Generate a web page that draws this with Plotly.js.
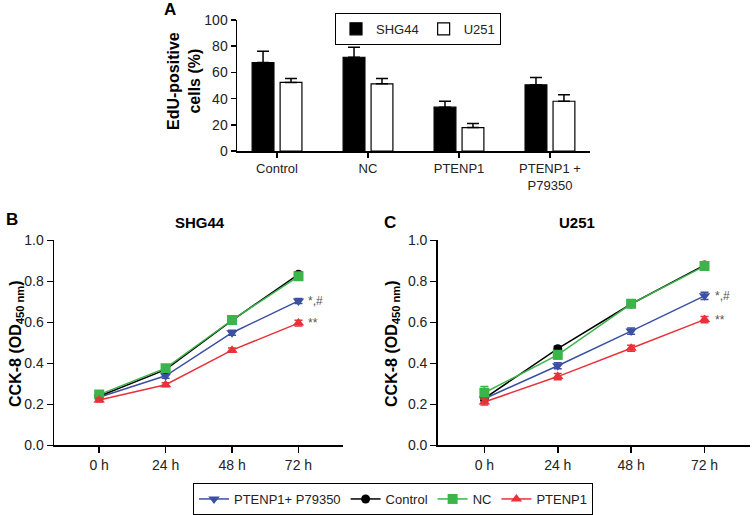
<!DOCTYPE html>
<html>
<head>
<meta charset="utf-8">
<script src="https://cdn.plot.ly/plotly-3.0.1.min.js"></script>
<style>html,body{margin:0;padding:0;background:#fff;}#chart{width:754px;height:515px;}</style>
</head>
<body>
<div id="chart"></div>
<script>
// Panel A data
const groupsA = ["Control", "NC", "PTENP1", "PTENP1 +<br>P79350"];
const shg44Edu = [67.5, 71.5, 33.5, 50.5];
const shg44EduErr = [8.5, 7.5, 4.5, 5.5];
const u251Edu = [52.3, 51.3, 18.0, 38.0];
const u251EduErr = [3.0, 4.0, 3.0, 5.0];

// Panels B and C data
const timePoints = ["0 h", "24 h", "48 h", "72 h"];
const seriesNames = ["PTENP1+ P79350", "Control", "NC", "PTENP1"];
const shgP79350 = [0.235, 0.34, 0.55, 0.705];
const shgControl = [0.24, 0.37, 0.61, 0.835];
const shgNC = [0.248, 0.377, 0.612, 0.825];
const shgPTENP1 = [0.222, 0.296, 0.465, 0.597];
const shgP79350Err = [0.01, 0.012, 0.012, 0.012];
const shgControlErr = [0.008, 0.01, 0.01, 0.012];
const shgNCErr = [0.01, 0.012, 0.01, 0.012];
const shgPTENP1Err = [0.01, 0.01, 0.01, 0.014];

const u251P79350 = [0.228, 0.389, 0.558, 0.73];
const u251Control = [0.23, 0.472, 0.69, 0.88];
const u251NC = [0.257, 0.442, 0.691, 0.875];
const u251PTENP1 = [0.212, 0.336, 0.474, 0.614];
const u251P79350Err = [0.012, 0.015, 0.015, 0.018];
const u251ControlErr = [0.01, 0.012, 0.01, 0.012];
const u251NCErr = [0.03, 0.02, 0.012, 0.015];
const u251PTENP1Err = [0.015, 0.015, 0.015, 0.015];

const colors = ["#3b4fa3", "#000000", "#3bb44a", "#e8323a"];
const symbols = ["triangle-down", "circle", "square", "triangle-up"];
const markerSizes = [10, 9, 10, 10];

const W = 754, H = 515;
const px = v => v / W;
const py = v => 1 - v / H;
const FONT = "Liberation Sans, Arial, sans-serif";

const traces = [];
traces.push({
  type: "bar", x: groupsA, y: shg44Edu, name: "SHG44", xaxis: "x", yaxis: "y",
  marker: {color: "#000", line: {color: "#000", width: 1.2}},
  error_y: {type: "data", symmetric: false, array: shg44EduErr, arrayminus: [0,0,0,0], color: "#000", thickness: 1.5, width: 6},
  legend: "legend"
});
traces.push({
  type: "bar", x: groupsA, y: u251Edu, name: "U251", xaxis: "x", yaxis: "y",
  marker: {color: "#fff", line: {color: "#000", width: 1.2}},
  error_y: {type: "data", symmetric: false, array: u251EduErr, arrayminus: [0,0,0,0], color: "#000", thickness: 1.5, width: 6},
  legend: "legend"
});

const shgSets = [[shgP79350, shgP79350Err], [shgControl, shgControlErr], [shgNC, shgNCErr], [shgPTENP1, shgPTENP1Err]];
const u251Sets = [[u251P79350, u251P79350Err], [u251Control, u251ControlErr], [u251NC, u251NCErr], [u251PTENP1, u251PTENP1Err]];

function addLines(sets, xa, ya, show) {
  sets.forEach((s, i) => {
    traces.push({
      type: "scatter", mode: "lines+markers", x: timePoints, y: s[0], name: seriesNames[i],
      xaxis: xa, yaxis: ya, showlegend: show, legend: "legend2",
      line: {color: colors[i], width: 1.5},
      marker: {color: colors[i], symbol: symbols[i], size: markerSizes[i]},
      error_y: {type: "data", array: s[1], color: colors[i], thickness: 1.5, width: 4}
    });
  });
}
addLines(shgSets, "x2", "y2", true);
addLines(u251Sets, "x3", "y3", false);

const axBase = {
  showgrid: false, zeroline: false, showline: true, linecolor: "#000", linewidth: 1.5,
  ticks: "outside", ticklen: 5, tickwidth: 1.5, tickcolor: "#000",
  tickfont: {family: FONT, size: 13, color: "#222"}
};
const axLine = Object.assign({}, axBase, {ticklen: 6, tickfont: {family: FONT, size: 14, color: "#222"}});

const layout = {
  width: W, height: H,
  margin: {l: 0, r: 0, t: 0, b: 0},
  paper_bgcolor: "#fff", plot_bgcolor: "rgba(0,0,0,0)",
  font: {family: FONT, color: "#222"},
  barmode: "group", bargap: 0.385, bargroupgap: 0.22,
  xaxis: Object.assign({}, axBase, {domain: [px(237), px(590)], range: [-0.44, 3.44], type: "category", anchor: "y"}),
  yaxis: Object.assign({}, axBase, {domain: [py(153), py(20)], range: [0, 100], tickvals: [0,20,40,60,80,100], anchor: "x", tickfont: {family: FONT, size: 14, color: "#222"}}),
  xaxis2: Object.assign({}, axLine, {domain: [px(54), px(343)], range: [-0.68, 3.67], type: "category", anchor: "y2"}),
  yaxis2: Object.assign({}, axLine, {domain: [py(450.7), py(243.3)], range: [0, 1], tickvals: [0,0.2,0.4,0.6,0.8,1.0], tickformat: ".1f", anchor: "x2"}),
  xaxis3: Object.assign({}, axLine, {domain: [px(437.7), px(750)], range: [-0.636, 3.62], type: "category", anchor: "y3"}),
  yaxis3: Object.assign({}, axLine, {domain: [py(450.7), py(243.3)], range: [0, 1], tickvals: [0,0.2,0.4,0.6,0.8,1.0], tickformat: ".1f", anchor: "x3"}),
  legend: {
    orientation: "h", x: px(335), y: py(13), xanchor: "left", yanchor: "top",
    bordercolor: "#000", borderwidth: 1, bgcolor: "#fff",
    font: {family: FONT, size: 13, color: "#222"}, itemwidth: 30, tracegroupgap: 0
  },
  legend2: {
    orientation: "h", x: px(193), y: py(489), xanchor: "left", yanchor: "top",
    bordercolor: "#000", borderwidth: 1, bgcolor: "#fff",
    font: {family: FONT, size: 13, color: "#222"}, itemwidth: 30
  },
  annotations: [
    {text: "<b>A</b>", xref: "paper", yref: "paper", x: px(170), y: py(10), xanchor: "center", yanchor: "middle", showarrow: false, font: {family: FONT, size: 17, color: "#000"}},
    {text: "<b>B</b>", xref: "paper", yref: "paper", x: px(12), y: py(222), xanchor: "center", yanchor: "middle", showarrow: false, font: {family: FONT, size: 17, color: "#000"}},
    {text: "<b>C</b>", xref: "paper", yref: "paper", x: px(390), y: py(225), xanchor: "center", yanchor: "middle", showarrow: false, font: {family: FONT, size: 17, color: "#000"}},
    {text: "<b>SHG44</b>", xref: "paper", yref: "paper", x: px(200), y: py(225), xanchor: "center", yanchor: "middle", showarrow: false, font: {family: FONT, size: 15, color: "#000"}},
    {text: "<b>U251</b>", xref: "paper", yref: "paper", x: px(577), y: py(225), xanchor: "center", yanchor: "middle", showarrow: false, font: {family: FONT, size: 15, color: "#000"}},
    {text: "<b>EdU-positive<br>cells (%)</b>", xref: "paper", yref: "paper", x: px(184), y: py(82), xanchor: "center", yanchor: "middle", textangle: -90, showarrow: false, font: {family: FONT, size: 16, color: "#000"}},
    {text: "<b>CCK-8 (OD<sub>450 nm</sub>)</b>", xref: "paper", yref: "paper", x: px(17), y: py(348), xanchor: "center", yanchor: "middle", textangle: -90, showarrow: false, font: {family: FONT, size: 16, color: "#000"}},
    {text: "<b>CCK-8 (OD<sub>450 nm</sub>)</b>", xref: "paper", yref: "paper", x: px(393), y: py(348), xanchor: "center", yanchor: "middle", textangle: -90, showarrow: false, font: {family: FONT, size: 16, color: "#000"}},
    {text: "*,#", xref: "x2", yref: "y2", x: 3, y: shgP79350[3], xanchor: "left", yanchor: "middle", xshift: 8, showarrow: false, font: {family: FONT, size: 12, color: "#555"}},
    {text: "**", xref: "x2", yref: "y2", x: 3, y: shgPTENP1[3], xanchor: "left", yanchor: "middle", xshift: 8, showarrow: false, font: {family: FONT, size: 12, color: "#555"}},
    {text: "*,#", xref: "x3", yref: "y3", x: 3, y: u251P79350[3], xanchor: "left", yanchor: "middle", xshift: 8, showarrow: false, font: {family: FONT, size: 12, color: "#555"}},
    {text: "**", xref: "x3", yref: "y3", x: 3, y: u251PTENP1[3], xanchor: "left", yanchor: "middle", xshift: 8, showarrow: false, font: {family: FONT, size: 12, color: "#555"}}
  ]
};

Plotly.newPlot("chart", traces, layout, {staticPlot: true, displayModeBar: false});
</script>
</body>
</html>
